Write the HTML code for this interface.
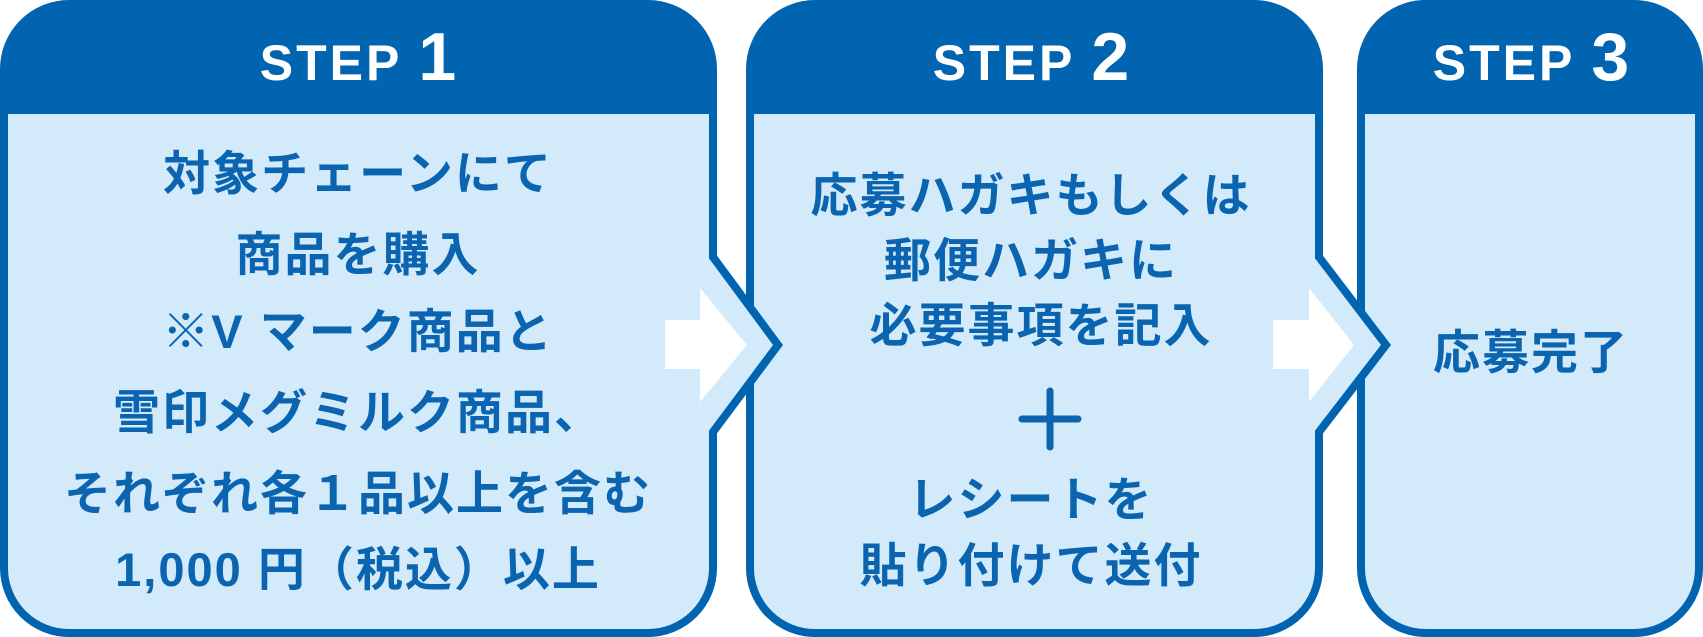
<!DOCTYPE html>
<html><head><meta charset="utf-8"><style>
html,body{margin:0;padding:0;background:#fff;}
svg{display:block}
.t{font-family:"Liberation Sans","Noto Sans CJK JP",sans-serif;font-weight:bold;fill:#0a64b0;font-size:47px;text-anchor:middle;letter-spacing:2px}
.h{font-family:"Liberation Sans",sans-serif;font-weight:bold;fill:#fff;text-anchor:middle}
</style></head><body>
<svg width="1703" height="637" viewBox="0 0 1703 637" xmlns="http://www.w3.org/2000/svg">
<!-- box3 -->
<path d="M1422,4 H1634 A65,65 0 0 1 1699,69 V568 A65,65 0 0 1 1634,633 H1426 A65,65 0 0 1 1361,568 V69 A65,65 0 0 1 1422,4 Z" fill="#d2eaf9" stroke="#0064b1" stroke-width="8"/>
<path d="M1422,4 H1634 A65,65 0 0 1 1699,69 V114 H1361 V69 A65,65 0 0 1 1422,4 Z" fill="#0064b1"/>
<!-- box2 -->
<path d="M815,4 H1254 A65,65 0 0 1 1319,69 V257 L1386,345 L1319,432 V568 A65,65 0 0 1 1254,633 H815 A65,65 0 0 1 750,568 V69 A65,65 0 0 1 815,4 Z" fill="#d2eaf9" stroke="#0064b1" stroke-width="8"/>
<path d="M815,4 H1254 A65,65 0 0 1 1319,69 V114 H750 V69 A65,65 0 0 1 815,4 Z" fill="#0064b1"/>
<!-- box1 -->
<path d="M69,4 H648 A65,65 0 0 1 713,69 V257 L778,345 L713,432 V568 A65,65 0 0 1 648,633 H69 A65,65 0 0 1 4,568 V69 A65,65 0 0 1 69,4 Z" fill="#d2eaf9" stroke="#0064b1" stroke-width="8"/>
<path d="M69,4 H648 A65,65 0 0 1 713,69 V114 H4 V69 A65,65 0 0 1 69,4 Z" fill="#0064b1"/>
<!-- white arrows -->
<path d="M665,320 H700 V288 L747,345 L700,402 V369 H665 Z" fill="#fff"/>
<path d="M1273,320 H1309 V288 L1354,345 L1309,402 V369 H1273 Z" fill="#fff"/>
<!-- headers -->
<text class="h" x="358" y="80"><tspan font-size="50" letter-spacing="3">STEP </tspan><tspan font-size="68">1</tspan></text>
<text class="h" x="1031" y="80"><tspan font-size="50" letter-spacing="3">STEP </tspan><tspan font-size="68">2</tspan></text>
<text class="h" x="1531" y="80"><tspan font-size="50" letter-spacing="3">STEP </tspan><tspan font-size="68">3</tspan></text>
<!-- box1 text -->
<text class="t" x="358" y="190">対象チェーンにて</text>
<text class="t" x="358" y="271">商品を購入</text>
<text class="t" x="358" y="348">※V マーク商品と</text>
<text class="t" x="358" y="429">雪印メグミルク商品、</text>
<text class="t" x="358" y="510">それぞれ各１品以上を含む</text>
<text class="t" x="358" y="586">1,000 円（税込）以上</text>
<!-- box2 text -->
<text class="t" x="1031" y="212">応募ハガキもしくは</text>
<text class="t" x="1031" y="277">郵便ハガキに</text>
<text class="t" x="1041" y="342">必要事項を記入</text>
<path d="M1022,419 H1078 M1050,391 V447" stroke="#0a64b0" stroke-width="7" stroke-linecap="round"/>
<text class="t" x="1031" y="516">レシートを</text>
<text class="t" x="1031" y="582">貼り付けて送付</text>
<!-- box3 -->
<text class="t" x="1531" y="369">応募完了</text>
</svg>
</body></html>
